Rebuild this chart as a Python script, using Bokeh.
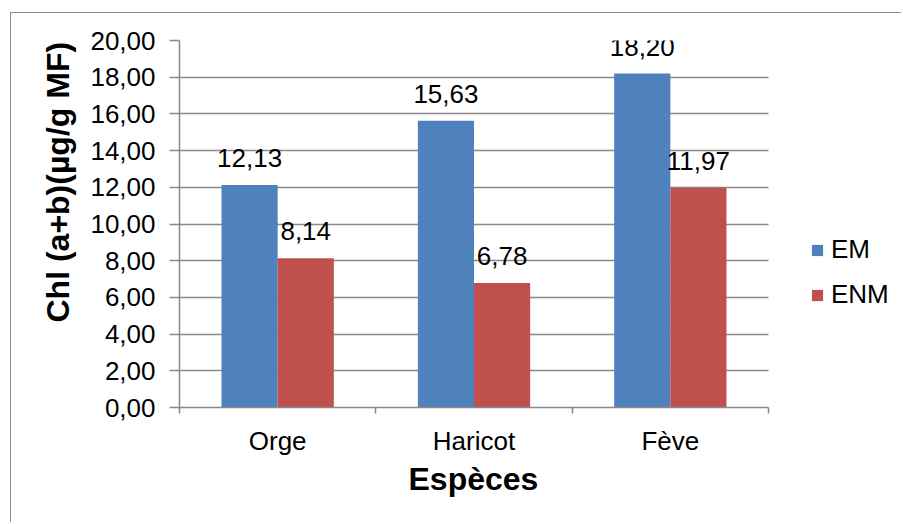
from bokeh.plotting import figure
from bokeh.models import (ColumnDataSource, FixedTicker, SingleIntervalTicker,
                          CustomJSTickFormatter, LabelSet, Range1d, Legend,
                          LegendItem, Title)
from bokeh.core.properties import value
from bokeh.embed import file_html
from bokeh.resources import INLINE

# Chlorophyll (a+b) content per species, two treatments
species = ["Orge", "Haricot", "Fève"]
em_values = [12.13, 15.63, 18.20]
enm_values = [8.14, 6.78, 11.97]
series_names = ["EM", "ENM"]
x_title = "Espèces"
y_title = "Chl (a+b)(µg/g MF)"
y_ticks_step = 2
y_max = 20

BLUE = "#4F81BD"
RED = "#C0504D"
GREY = "#898989"
FONT = "Liberation Sans"
TXT = "26px"
TITLE_TXT = "32px"

bar_w = 0.286
n = len(species)
centres = [i + 0.5 for i in range(n)]

# the plotting frame runs on to the right edge so the legend can sit there;
# the category area (0..n) covers 589 px of the 723 px frame
FRAME_W = 723
CAT_W = 589
x_end = n * FRAME_W / CAT_W


def fmt(v):
    return f"{v:.2f}".replace(".", ",")


src_em = ColumnDataSource(dict(
    x=[c - bar_w / 2 for c in centres], top=em_values,
    label=[fmt(v) for v in em_values]))
src_enm = ColumnDataSource(dict(
    x=[c + bar_w / 2 for c in centres], top=enm_values,
    label=[fmt(v) for v in enm_values]))

p = figure(width=891, height=510, output_backend="svg", toolbar_location=None,
           x_range=Range1d(0, x_end), y_range=Range1d(0, y_max),
           min_border_left=168, min_border_right=0,
           min_border_top=27, min_border_bottom=116)
p.styles = {"margin-left": "10px", "margin-top": "12px",
            "border-left": "1.5px solid #8c8c8c",
            "border-top": "1.5px solid #8c8c8c"}

p.outline_line_color = None
p.background_fill_color = "white"
p.border_fill_color = "white"

r_em = p.vbar(x="x", top="top", width=bar_w, source=src_em, color=BLUE,
              line_color=None)
r_enm = p.vbar(x="x", top="top", width=bar_w, source=src_enm, color=RED,
               line_color=None)

for src in (src_em, src_enm):
    p.add_layout(LabelSet(x="x", y="top", text="label", source=src,
                          text_align="center", text_baseline="middle",
                          y_offset=27, text_font=value(FONT),
                          text_font_size=value(TXT), text_color="black"))

# y axis
p.yaxis.ticker = SingleIntervalTicker(interval=y_ticks_step, num_minor_ticks=0)
p.yaxis.formatter = CustomJSTickFormatter(
    code="return tick.toFixed(2).replace('.', ',');")
p.yaxis.major_label_text_font = FONT
p.yaxis.major_label_text_font_size = TXT
p.yaxis.major_label_text_color = "black"
p.yaxis.major_label_standoff = 14
p.yaxis.major_tick_out = 10
p.yaxis.major_tick_in = 0
p.yaxis.minor_tick_line_color = None
p.yaxis.axis_line_color = GREY
p.yaxis.axis_line_width = 1.5
p.yaxis.major_tick_line_color = GREY
p.yaxis.major_tick_line_width = 1.5

# x axis: names at category centres, tick marks at category boundaries
p.xaxis.ticker = FixedTicker(ticks=centres, minor_ticks=list(range(n + 1)))
p.xaxis.major_label_overrides = {c: s for c, s in zip(centres, species)}
p.xaxis.bounds = (0, n)
p.xaxis.major_label_text_font = FONT
p.xaxis.major_label_text_font_size = TXT
p.xaxis.major_label_text_color = "black"
p.xaxis.major_label_standoff = 12
p.xaxis.major_tick_out = 0
p.xaxis.major_tick_in = 0
p.xaxis.minor_tick_out = 6
p.xaxis.minor_tick_in = 0
p.xaxis.minor_tick_line_color = GREY
p.xaxis.minor_tick_line_width = 1.5
p.xaxis.axis_line_color = GREY
p.xaxis.axis_line_width = 1.5

p.xgrid.grid_line_color = None
p.ygrid.grid_line_color = GREY
p.ygrid.grid_line_width = 1.5
p.ygrid.cross_bounds = (0, n)

# axis titles
p.add_layout(Title(text=x_title, align="left", offset=229, standoff=1,
                   text_font=FONT, text_font_size=TITLE_TXT,
                   text_font_style="bold", text_color="black"), "below")
p.add_layout(Title(text=y_title, align="left", vertical_align="top",
                   offset=85, standoff=20,
                   text_font=FONT, text_font_size=TITLE_TXT,
                   text_font_style="bold", text_color="black"), "left")

lg = Legend(items=[LegendItem(label=series_names[0], renderers=[r_em]),
                   LegendItem(label=series_names[1], renderers=[r_enm])],
            location=(631, 97), margin=0, padding=0, spacing=14,
            glyph_width=14, glyph_height=14, label_height=25,
            label_standoff=7, label_text_font=FONT,
            label_text_font_size=TXT, label_text_color="black",
            border_line_color=None, background_fill_alpha=0)
p.add_layout(lg, "center")

open("out.html", "w").write(file_html(p, INLINE))
